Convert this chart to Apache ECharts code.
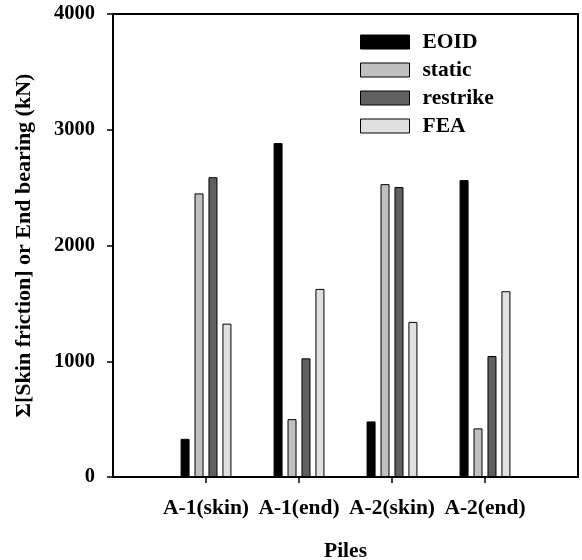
<!DOCTYPE html>
<html lang="en" style="height: 100%">
<head>
  <meta charset="utf-8">
</head>
<body style="height: 100%; margin: 0; background: #fff">
  <div id="container" style="width: 582px; height: 560px"></div>

  <script type="text/javascript" src="https://cdn.jsdelivr.net/npm/echarts@6/dist/echarts.min.js"></script>

  <script type="text/javascript">
    var dom = document.getElementById('container');
    var myChart = echarts.init(dom, null, { renderer: 'canvas' });

    const piles = ['A-1(skin)', 'A-1(end)', 'A-2(skin)', 'A-2(end)'];
    const eoid = [330, 2885, 480, 2565];
    const staticTest = [2450, 500, 2530, 420];
    const restrike = [2590, 1025, 2505, 1045];
    const fea = [1325, 1625, 1340, 1605];
    const yTicks = [0, 1000, 2000, 3000, 4000];

    const serif = '"Liberation Serif", "DejaVu Serif", serif';
    // empty slot either side so the groups sit on ticks 1..4 of 5
    const axisCats = [''].concat(piles, ['']);
    function pad(arr) {
      return [null].concat(arr, [null]);
    }

    function barSeries(name, values, color) {
      return {
        name: name,
        type: 'bar',
        data: pad(values),
        barWidth: 9,
        barGap: '55%',
        itemStyle: { color: color, borderColor: '#000', borderWidth: 1 }
      };
    }

    var option = {
      animation: false,
      grid: {
        left: 113,
        right: 4,
        top: 14,
        bottom: 83,
        outerBoundsMode: 'none',
        show: true,
        borderColor: '#000',
        borderWidth: 2
      },
      legend: {
        orient: 'vertical',
        left: 355,
        top: 26,
        itemWidth: 49,
        itemHeight: 14,
        itemGap: 6,
        icon: 'rect',
        itemStyle: { borderColor: '#000', borderWidth: 1 },
        textStyle: {
          fontFamily: serif,
          fontWeight: 'bold',
          fontSize: 21.5,
          color: '#000',
          padding: [0, 0, 0, 8]
        },
        data: ['EOID', 'static', 'restrike', 'FEA']
      },
      xAxis: {
        type: 'category',
        data: axisCats,
        boundaryGap: false,
        name: 'Piles',
        nameLocation: 'middle',
        nameGap: 63,
        nameTextStyle: { fontFamily: serif, fontWeight: 'bold', fontSize: 21.5, color: '#000' },
        axisLine: { lineStyle: { color: '#000', width: 2 } },
        axisTick: {
          length: 6,
          lineStyle: { color: '#000', width: 1.5 },
          interval: function (index) {
            return index > 0 && index < axisCats.length - 1;
          }
        },
        axisLabel: {
          interval: 0,
          margin: 20,
          fontFamily: serif,
          fontWeight: 'bold',
          fontSize: 21.5,
          color: '#000'
        },
        splitLine: { show: false }
      },
      yAxis: {
        type: 'value',
        min: yTicks[0],
        max: yTicks[yTicks.length - 1],
        interval: 1000,
        name: 'Σ[Skin friction] or End bearing (kN)',
        nameLocation: 'middle',
        nameGap: 78,
        nameTextStyle: { fontFamily: serif, fontWeight: 'bold', fontSize: 22, color: '#000' },
        axisLine: { show: true, lineStyle: { color: '#000', width: 2 } },
        axisTick: { show: true, length: 6, lineStyle: { color: '#000', width: 1.5 } },
        axisLabel: {
          margin: 18,
          fontFamily: serif,
          fontWeight: 'bold',
          fontSize: 20.5,
          color: '#000',
          formatter: function (v) {
            return String(v);
          }
        },
        splitLine: { show: false }
      },
      series: [
        barSeries('EOID', eoid, '#000000'),
        barSeries('static', staticTest, '#c0c0c0'),
        barSeries('restrike', restrike, '#606060'),
        barSeries('FEA', fea, '#e0e0e0')
      ]
    };

    myChart.setOption(option);
    window.addEventListener('resize', myChart.resize);
  </script>
</body>
</html>
